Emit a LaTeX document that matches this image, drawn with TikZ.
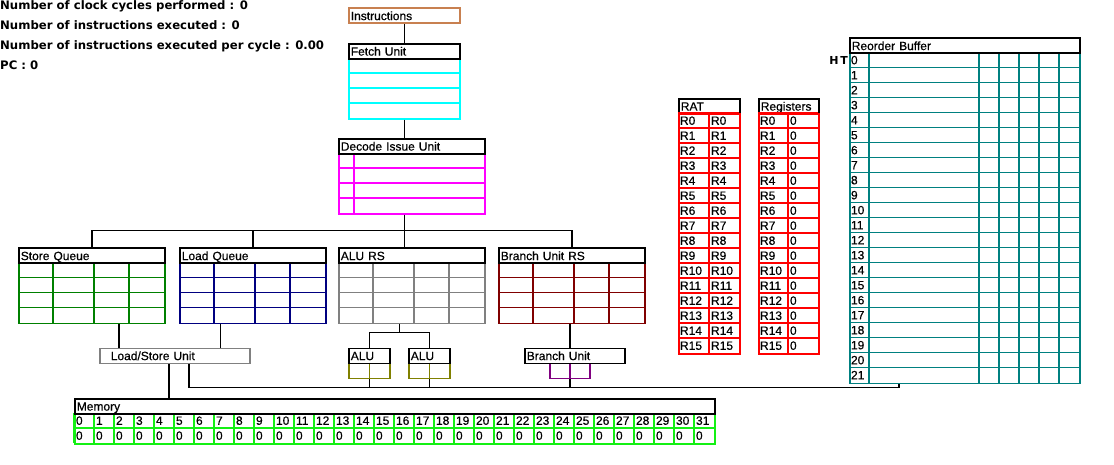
\documentclass[tikz,border=0pt]{standalone}
\usepackage{fontspec}
\usetikzlibrary{calc}
\newfontfamily\lblfamily{Liberation Sans}[FakeBold=0.5]
\newfontfamily\statfamily{DejaVu Sans}
\newcommand\lblfont{\lblfamily\fontsize{12}{14}\selectfont}
\newcommand\statfont{\statfamily\bfseries\fontsize{11.7}{14}\selectfont}
\definecolor{instrc}{RGB}{200,128,80}
\definecolor{fetchc}{RGB}{0,255,255}
\definecolor{decc}{RGB}{255,0,255}
\definecolor{sqc}{RGB}{0,128,0}
\definecolor{lqc}{RGB}{0,0,128}
\definecolor{arsc}{RGB}{128,128,128}
\definecolor{brsc}{RGB}{128,0,0}
\definecolor{aluc}{RGB}{128,128,0}
\definecolor{buc}{RGB}{128,0,128}
\definecolor{memc}{RGB}{20,240,20}
\definecolor{robc}{RGB}{0,128,128}
\definecolor{ratc}{RGB}{255,0,0}
\tikzset{
  hdr/.style={draw=black, line width=1.6pt, anchor=north west, minimum height=15pt,
    inner xsep=2pt, inner ysep=0pt, text height=8.6pt, text depth=0pt, align=left, font=\lblfont},
  bodybox/.style={draw=#1, line width=1.6pt, anchor=north west, inner sep=0pt},
  gline/.style={draw=#1, line width=1.6pt},
  celltxt/.style={anchor=west, inner xsep=1.8pt, inner ysep=0pt, text height=8.6pt, text depth=0pt, font=\lblfont},
  wire/.style={draw=black, line width=1.6pt},
  stat/.style={anchor=base west, inner sep=0pt, font=\statfont}
}
\begin{document}
\begin{tikzpicture}[x=1pt,y=-1pt]
		%%%%% START %%%%%
		\useasboundingbox (0,0) rectangle (1114,465);
		
		\node[stat] (ncyc) at (0,10) {Number of clock cycles performed : 0};
		\node[stat] (nins) at (0,30) {Number of instructions executed : 0};
		\node[stat] (ipc) at (0,50) {Number of instructions executed per cycle : 0.00};
		\node[stat] (pc) at (0,70) {PC : 0};
		
		\node[hdr, draw=instrc, text width=107pt] (instr) at (348,7.5) {Instructions};
		
		\node[bodybox=fetchc, minimum width=111pt, minimum height=60pt] (fetchq) at (348,58) {};
		\foreach \y in {73,88,103} \draw[gline=fetchc] (348,\y) -- ++(111,0);
		\node[hdr, text width=107pt] (fetch) at (348,43) {Fetch Unit};
		
		\node[bodybox=decc, minimum width=146pt, minimum height=60pt] (decq) at (338,153) {};
		\foreach \y in {168,183,198} \draw[gline=decc] (338,\y) -- ++(146,0);
		\draw[gline=decc] (354,153) -- ++(0,60);
		\node[hdr, text width=142pt] (dec) at (338,138) {Decode Issue Unit};
		
		\draw[wire] (instr.south) -- (fetch.north);
		\draw[wire] (fetchq.south) -- (fetchq.south |- dec.north);
		
		\foreach \x/\c/\t/\n in {18/sqc/Store Queue/sq, 179/lqc/Load Queue/lq,
		    338/arsc/ALU RS/ars, 498/brsc/Branch Unit RS/brs} {
		  \node[bodybox=\c, minimum width=146pt, minimum height=60pt] (\n-b) at (\x,262.5) {};
		  \foreach \y in {277.5,292.5,307.5} \draw[gline=\c] (\x,\y) -- ++(146,0);
		  \foreach \dx in {35,76,111} \draw[gline=\c] (\x+\dx,262.5) -- ++(0,60);
		  \node[hdr, text width=142pt] (\n) at (\x,247.5) {\t};
		}
		
		\draw[wire] (decq.south -| instr.south) -- ++(0,16) coordinate (fork);
		\draw[wire] (sq.north) |- (fork) -| (brs.north);
		\draw[wire] (lq.north) |- (fork);
		\draw[wire] (fork) -- (fork |- ars.north);
		
		\coordinate (bus) at (0,387.5);
		
		% load/store
		\node[hdr, draw=arsc, text width=146pt] (lsu) at (99,347.5) {\hspace*{9pt}Load/Store Unit};
		\coordinate (sqout) at ([xshift=20pt]lsu.north west);
		\coordinate (lqout) at ([xshift=-30pt]lsu.north east);
		\draw[wire] (sqout) -- (sqout |- sq-b.south);
		\draw[wire] (lqout) -- (lqout |- lq-b.south);
		
		% alus
		\node[bodybox=aluc, minimum width=41pt, minimum height=15pt] (alu1-b) at (348,362.5) {};
		\node[bodybox=aluc, minimum width=41pt, minimum height=15pt] (alu2-b) at (408,362.5) {};
		\draw[gline=aluc] (alu1-b.north) -- (alu1-b.south);
		\draw[gline=aluc] (alu2-b.north) -- (alu2-b.south);
		\node[hdr, text width=37pt] (alu1) at (348,347.5) {ALU};
		\node[hdr, text width=37pt] (alu2) at (408,347.5) {ALU};
		\coordinate (alujoin) at ($(alu1.north)!.5!(alu2.north)+(0,-15)$);
		\draw[wire] (alu1.north) |- (alujoin) -| (alu2.north);
		\draw[wire] (alujoin) -- (alujoin |- ars-b.south);
		
		% branch unit
		\node[bodybox=buc, minimum width=40pt, minimum height=15pt] (bu-b) at (549,362.5) {};
		\draw[gline=buc] (bu-b.north) -- (bu-b.south);
		\node[hdr, text width=96pt] (bu) at (524,347.5) {Branch Unit};
		\draw[wire] (brs-b.south -| bu-b.north) -- (bu.north -| bu-b.north);
		
		% rat + registers
		\node[hdr, text width=57pt] (rat) at (678,98) {RAT};
		\node[bodybox=ratc, minimum width=61pt, minimum height=240pt] (rat-b) at (678,113) {};
		\draw[gline=ratc] (709,113) -- ++(0,240);
		\node[hdr, text width=56pt] (regs) at (758,98) {Registers};
		\node[bodybox=ratc, minimum width=60pt, minimum height=240pt] (regs-b) at (758,113) {};
		\draw[gline=ratc] (788,113) -- ++(0,240);
		\foreach \i in {0,...,15} {
		  \draw[gline=ratc] (678,113+15*\i) -- ++(61,0);
		  \draw[gline=ratc] (758,113+15*\i) -- ++(60,0);
		  \node[celltxt] (rat-a\i) at (678,120.5+15*\i) {R\i};
		  \node[celltxt] (rat-v\i) at (709,120.5+15*\i) {R\i};
		  \node[celltxt] (reg-a\i) at (758,120.5+15*\i) {R\i};
		  \node[celltxt] (reg-v\i) at (788,120.5+15*\i) {0};
		}
		
		% reorder buffer
		\node[bodybox=robc, minimum width=230pt, minimum height=330pt] (rob-b) at (849,52.5) {};
		\foreach \cx in {869,979,999,1019,1039,1059} \draw[gline=robc] (\cx,52.5) -- ++(0,330);
		\foreach \i in {0,...,21} {
		  \draw[gline=robc] (849,52.5+15*\i) -- ++(230,0);
		  \node[celltxt] (rob\i) at (849,60+15*\i) {\i};
		}
		\node[hdr, text width=226pt] (rob) at (849,37.5) {Reorder Buffer};
		\node[anchor=east, inner xsep=1pt, inner ysep=0pt, text height=8.6pt, text depth=0pt,
		  font=\statfamily\bfseries\fontsize{11}{13}\selectfont] (ht) at (rob0.west) {H\,T};
		
		% memory
		\node[bodybox=memc, minimum width=640pt, minimum height=30pt] (mem-b) at (74,413) {};
		\draw[gline=memc] (74,428) -- ++(640,0);
		\foreach \i in {0,...,31} {
		  \draw[gline=memc] (74+20*\i,413) -- ++(0,30);
		  \node[celltxt] (mem-a\i) at (74+20*\i,420.5) {\i};
		  \node[celltxt] (mem-v\i) at (74+20*\i,435.5) {0};
		}
		\node[hdr, text width=636pt] (mem) at (74,398) {Memory};
		
		% buses
		\coordinate (lsumem) at ([xshift=70pt]lsu.south west);
		\coordinate (lsubus) at ([xshift=90pt]lsu.south west);
		\coordinate (robin) at ([xshift=50pt]rob-b.south west);
		\draw[wire] (lsumem) -- (lsumem |- mem.north);
		\draw[wire] (lsubus) |- (robin |- bus) -- (robin);
		\draw[wire] (alu1-b.south) -- (alu1-b.south |- bus);
		\draw[wire] (alu2-b.south) -- (alu2-b.south |- bus);
		\draw[wire] (bu-b.south) -- (bu-b.south |- bus);
		%%%%% END %%%%%
\end{tikzpicture}
\end{document}
